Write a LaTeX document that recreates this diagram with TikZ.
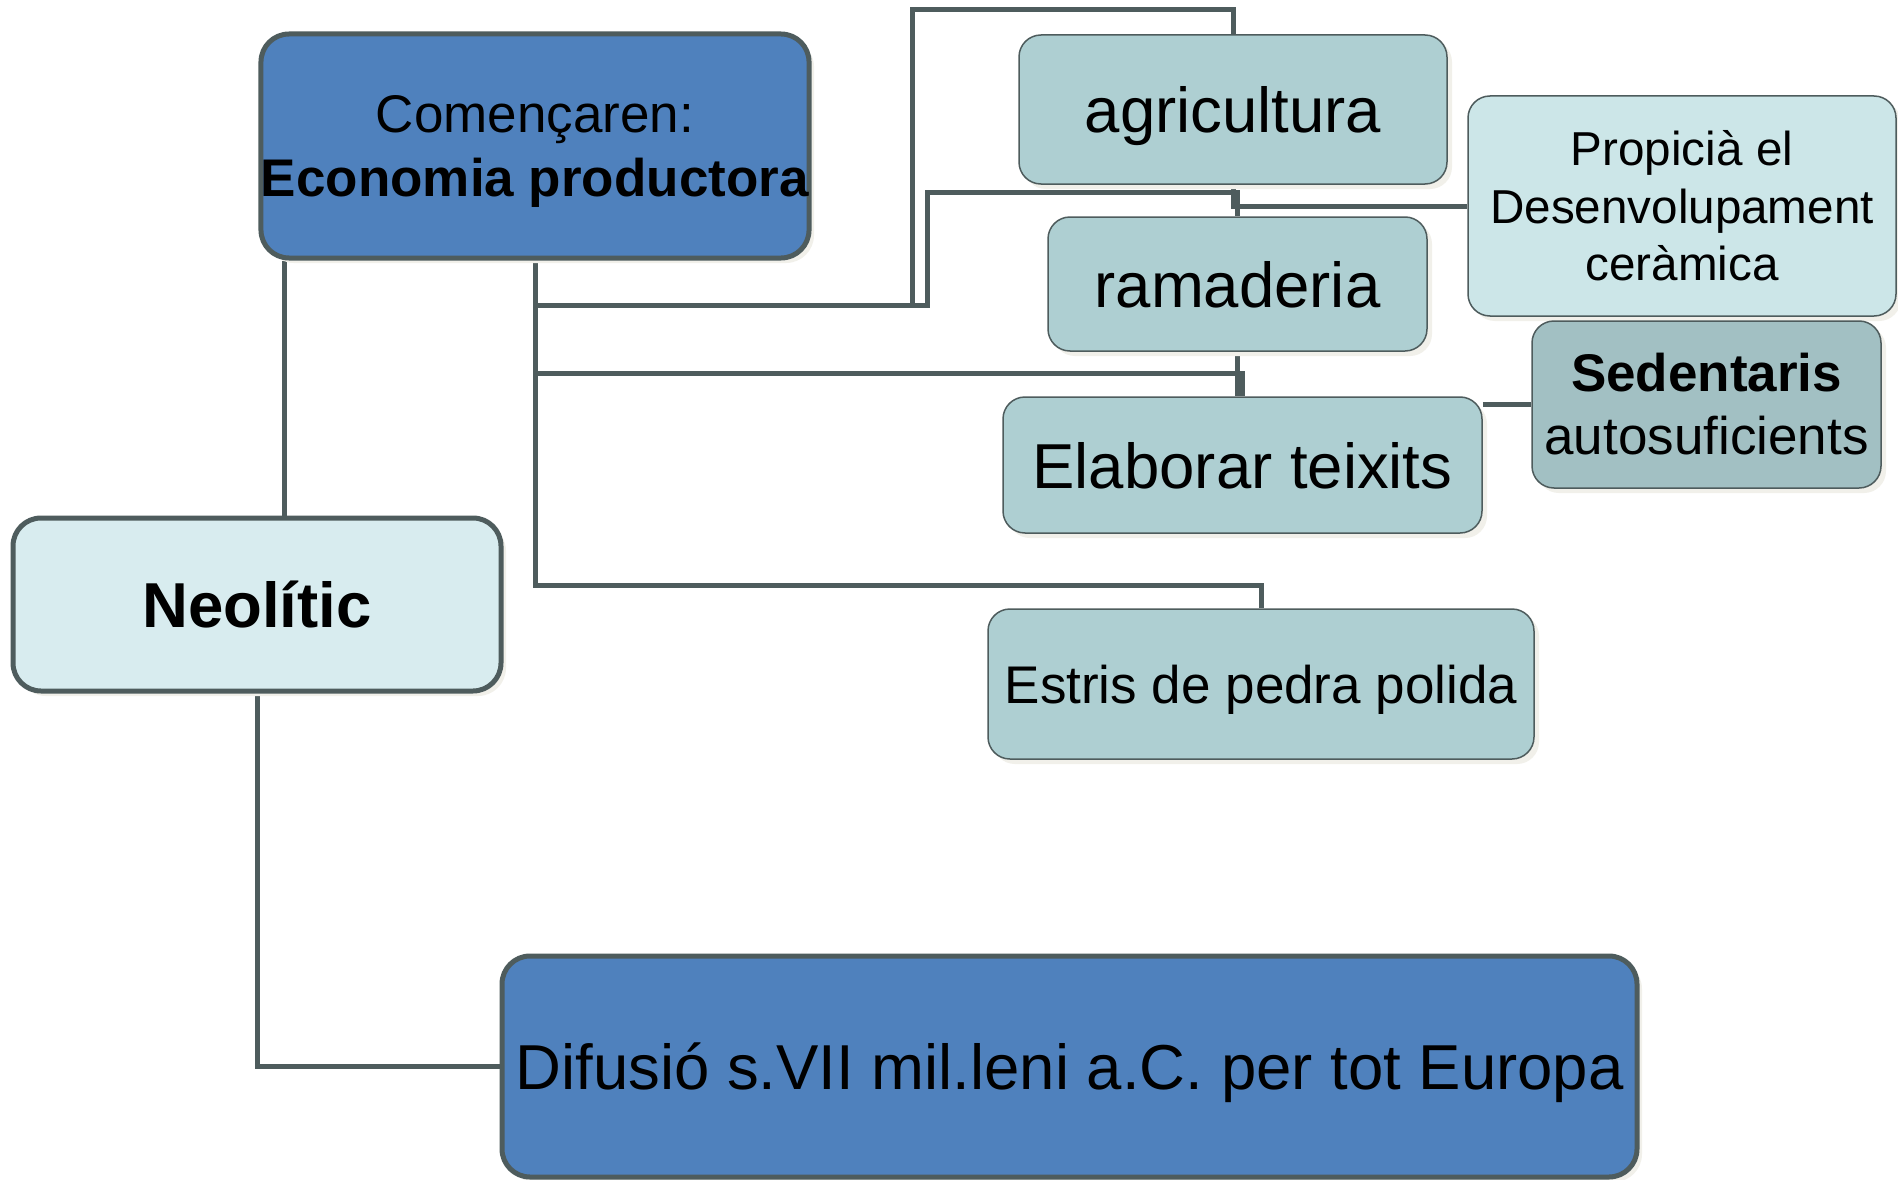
\documentclass[tikz,border=0pt]{standalone}
\usepackage{fontspec}
\setmainfont{Liberation Sans}
\usetikzlibrary{shadows,backgrounds}
\definecolor{lc}{HTML}{4E5C5D}
\definecolor{blueA}{HTML}{4F81BD}
\definecolor{neoC}{HTML}{D8ECEF}
\definecolor{tealA}{HTML}{AECFD2}
\definecolor{proC}{HTML}{CCE6E8}
\definecolor{sedC}{HTML}{A2C0C3}
\definecolor{shc}{HTML}{F1F0EA}
\newcommand\fbig{\fontsize{63.5}{76}\selectfont}
\newcommand\fmid{\fontsize{53}{64}\selectfont}
\newcommand\fsed{\fontsize{53}{63}\selectfont}
\newcommand\fpro{\fontsize{47.6}{57.5}\selectfont}
\tikzset{
  box/.style={rounded corners=22pt, draw=lc, inner sep=0pt, align=center,
    drop shadow={shadow xshift=5pt, shadow yshift=-5pt, fill=shc, opacity=1}},
  bigbox/.style={box, line width=5pt, rounded corners=28pt},
  smallbox/.style={box, line width=1.5pt},
  oneline/.style={text depth=0pt},
  conn/.style={draw=lc, line width=5pt}
}
\begin{document}
\begin{tikzpicture}[x=1pt,y=-1pt]
\useasboundingbox (0,0) rectangle (1898,1180);

% nodes
\node[bigbox, oneline, fill=blueA, font=\fmid, minimum width=548pt, minimum height=224pt] (eco) at (535,146)
  {Començaren:\\\textbf{Economia productora}};
\node[bigbox, oneline, fill=neoC, font=\fbig\bfseries, minimum width=488pt, minimum height=173pt] (neo) at (257,604.5)
  {Neolític};
\node[bigbox, oneline, fill=blueA, font=\fbig, minimum width=1135pt, minimum height=221pt] (dif) at (1069.5,1066.5)
  {Difusió s.VII mil.leni a.C. per tot Europa};
\node[smallbox, oneline, fill=tealA, font=\fbig, minimum width=428pt, minimum height=149pt] (agr) at (1233,109.5)
  {agricultura};
\node[smallbox, oneline, fill=tealA, font=\fbig, minimum width=379pt, minimum height=134pt] (ram) at (1237.5,284)
  {ramaderia};
\node[smallbox, oneline, fill=tealA, font=\fbig, minimum width=479pt, minimum height=136pt] (ela) at (1242.5,465)
  {Elaborar teixits};
\node[smallbox, oneline, fill=tealA, font=\fmid, minimum width=546pt, minimum height=150pt] (est) at (1261,684)
  {Estris de pedra polida};
\node[smallbox, fill=proC, font=\fpro, minimum width=428pt, minimum height=220pt] (pro) at (1682,206)
  {Propicià el\\Desenvolupament\\ceràmica};
\node[smallbox, fill=sedC, font=\fsed, minimum width=349pt, minimum height=167pt] (sed) at (1706.5,404.5)
  {\textbf{Sedentaris}\\autosuficients};

% connectors
\path (eco.south west) ++(26,0) coordinate (ecoL);
\coordinate (loopA) at (912,10);
\coordinate (loopB) at (927,192);
\begin{scope}[on background layer]
\fill[white] (0,0) rectangle (1898,1180);
\draw[conn] (ecoL) -- (ecoL |- neo.north);
\draw[conn] (neo.south) |- (dif.west);
\draw[conn] (eco.south) -- (eco.south |- 0,585) -| (est.north);
\draw[conn] (eco.south |- 0,305) -| (loopA) -| (agr.north);
\draw[conn] (eco.south |- 0,305) -| (loopB) -| (ram.north);
\draw[conn] (eco.south |- 0,373) -| (ela.north);
\draw[conn] (ram.south) -- (ram.south |- ela.north);
\draw[conn] (agr.south) |- (pro.west);
\draw[conn] (ela.east |- sed.west) -- (sed.west);
\end{scope}
\end{tikzpicture}
\end{document}
